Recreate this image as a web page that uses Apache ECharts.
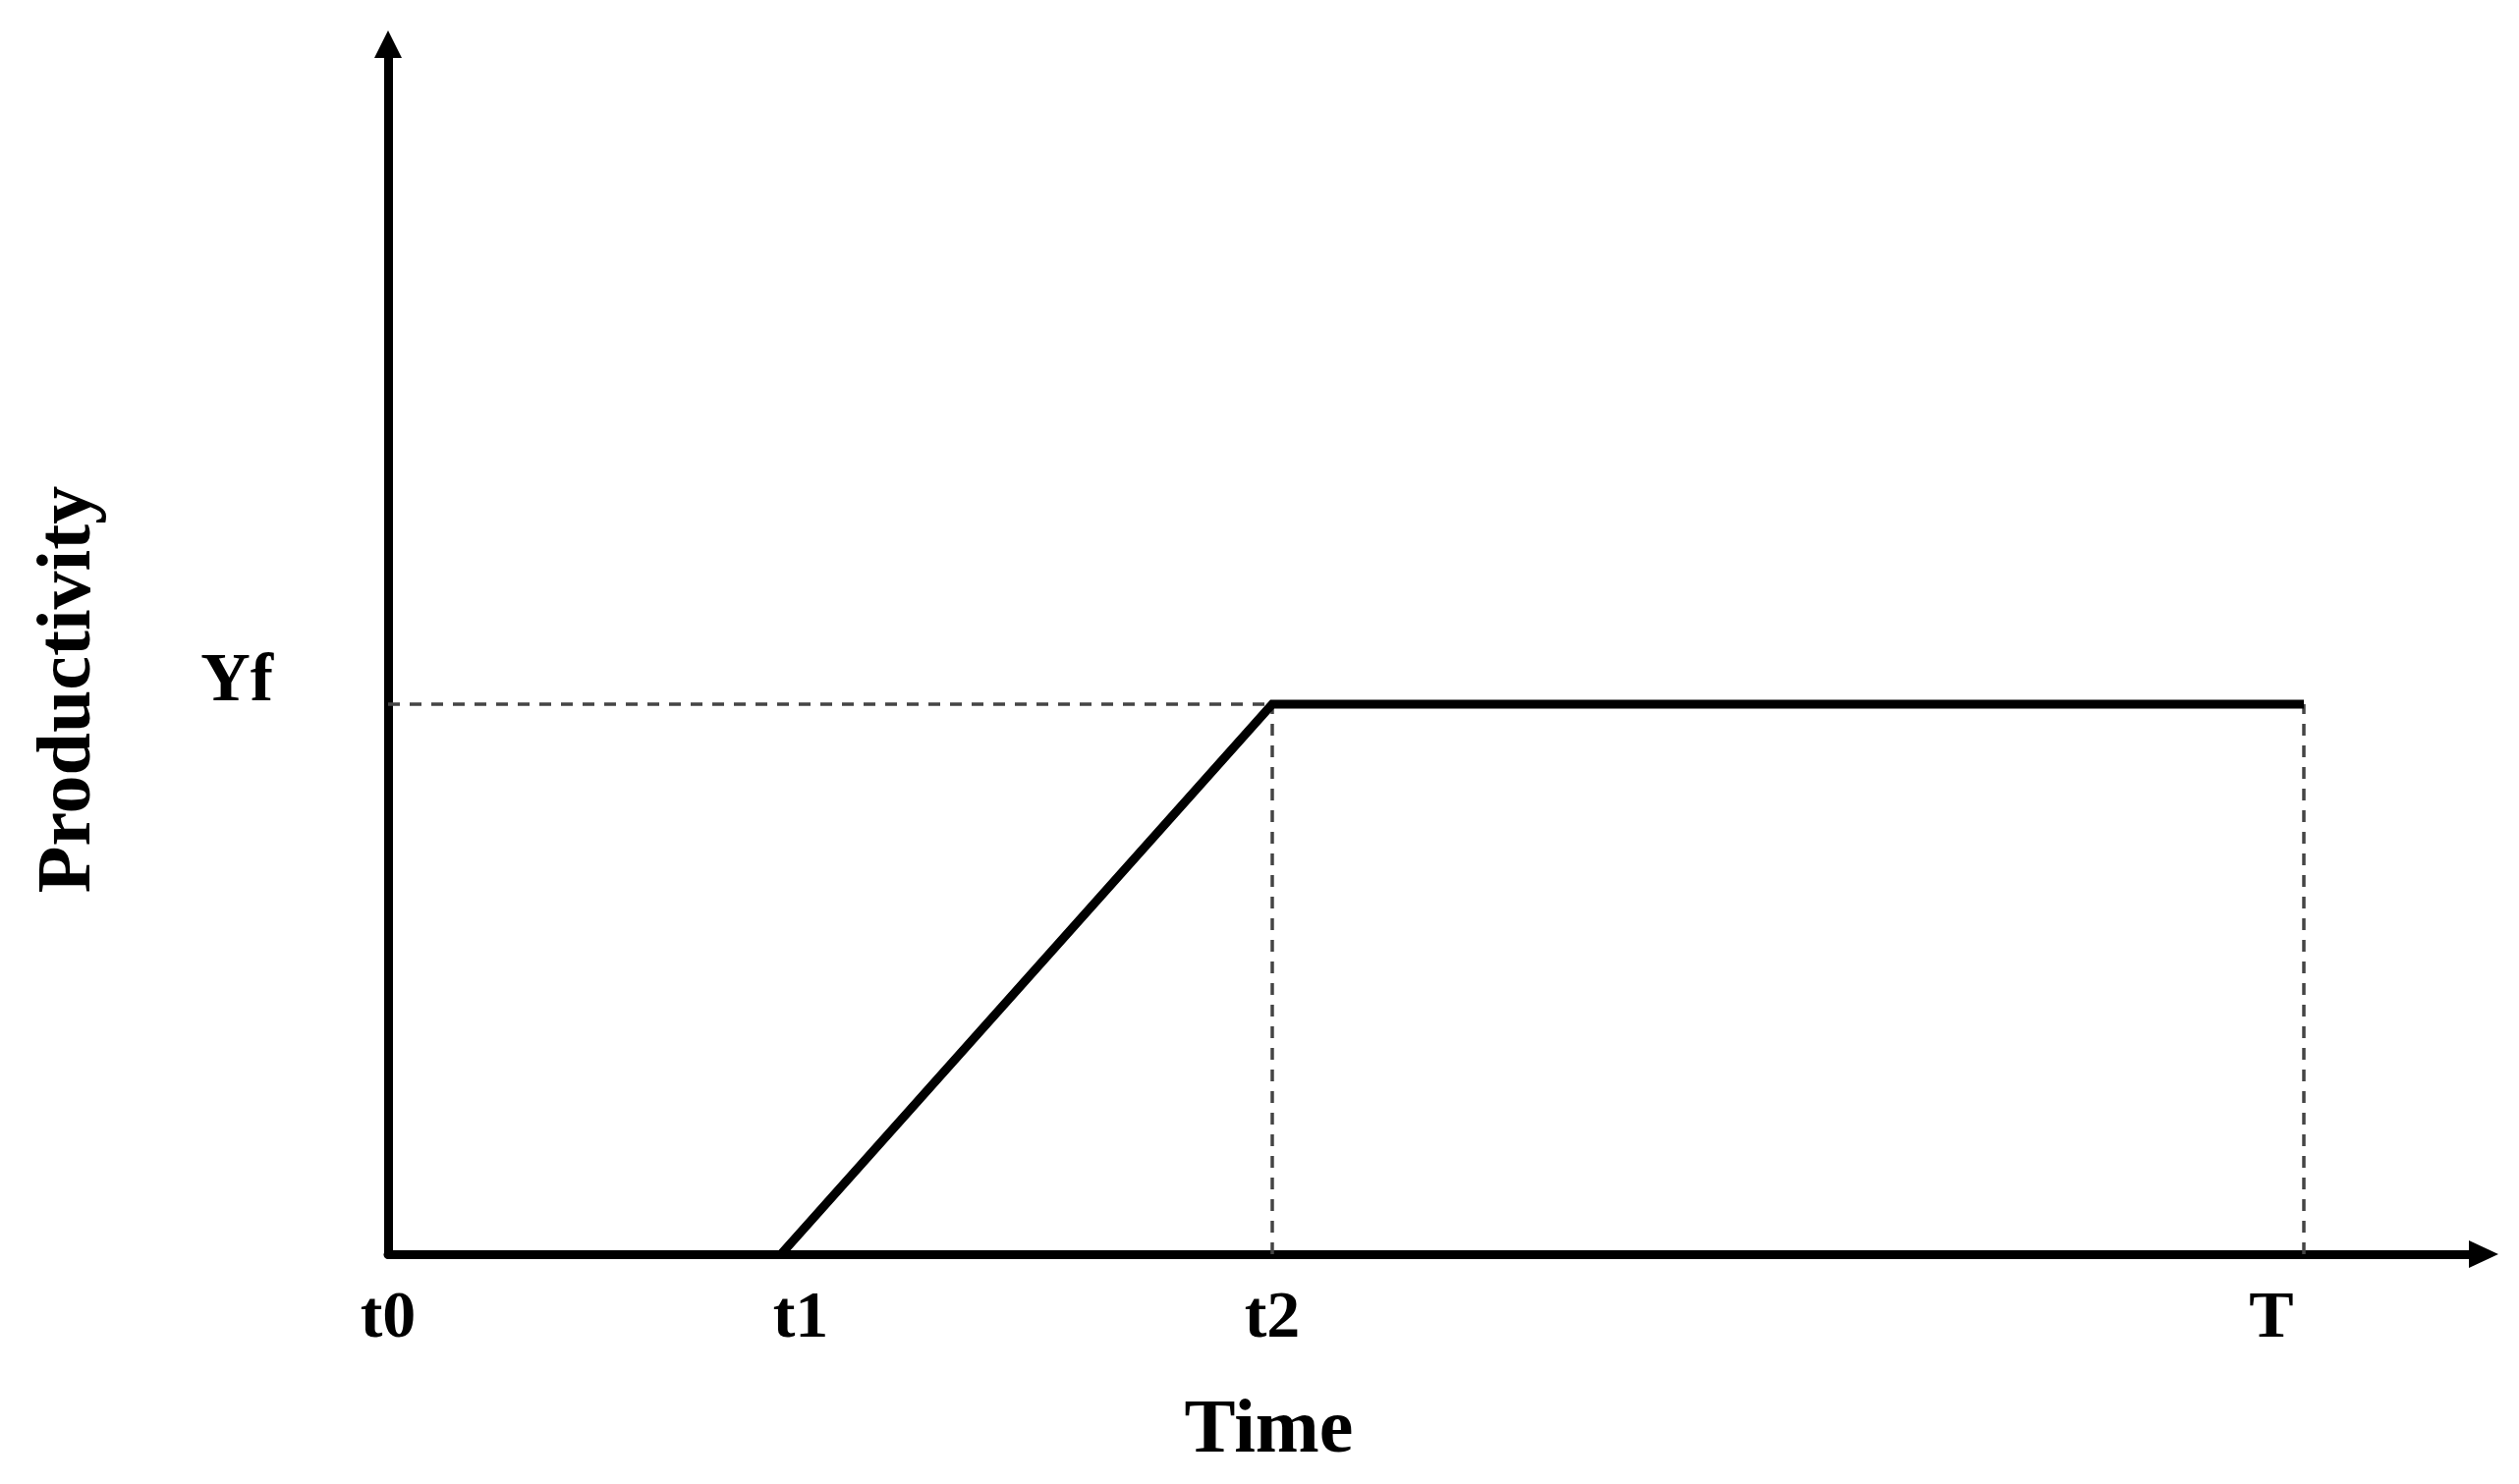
<!DOCTYPE html>
<html>
<head>
<meta charset="utf-8">
<script src="https://cdn.jsdelivr.net/npm/echarts@6/dist/echarts.min.js"></script>
<style>
html,body{margin:0;padding:0;background:#fff;}
#chart{width:2564px;height:1511px;}
</style>
</head>
<body>
<div id="chart"></div>
<script>
// Time points (arbitrary units) and productivity level
var timeTickValues = [0, 4, 9, 19.5];
var timeTickLabels = ['t0', 't1', 't2', 'T'];
var prodTickValues = [1];
var prodTickLabels = ['Yf'];
// productivity curve: zero until t1, linear ramp to Yf at t2, flat until T
var curveTime = [4, 9, 19.5];
var curveProd = [0, 1, 1];

var FONT = '"Liberation Serif", "Times New Roman", serif';
var chart = echarts.init(document.getElementById('chart'));

var t2 = curveTime[1], T = curveTime[2], Yf = curveProd[1];
var dashStyle = {color: '#444', width: 3.5, type: [12, 10]};
function dashed(pts) {
  return {type: 'line', data: pts, symbol: 'none', lineStyle: dashStyle, z: 1, silent: true};
}

var labelRich = {
  t0: {fontFamily: FONT, fontWeight: 'bold', fontSize: 68, color: '#000'},
  t1: {fontFamily: FONT, fontWeight: 'bold', fontSize: 68, color: '#000', padding: [0, 0, 0, 40]},
  t2: {fontFamily: FONT, fontWeight: 'bold', fontSize: 68, color: '#000'},
  T:  {fontFamily: FONT, fontWeight: 'bold', fontSize: 68, color: '#000', padding: [0, 66, 0, 0]}
};

chart.setOption({
  animation: false,
  backgroundColor: '#fff',
  grid: {left: 395, right: 36, top: 45, bottom: 234},
  xAxis: {
    type: 'value', min: 0, max: 21.33,
    name: 'Time', nameLocation: 'middle', nameGap: 142,
    nameTextStyle: {fontFamily: FONT, fontWeight: 'bold', fontSize: 78, color: '#000', padding: [0, 340, 0, 0]},
    axisLine: {show: true, onZero: false, lineStyle: {color: '#000', width: 9}, symbol: ['none', 'triangle'], symbolSize: [28, 30]},
    axisTick: {show: false},
    splitLine: {show: false},
    axisLabel: {
      customValues: timeTickValues,
      margin: 32,
      formatter: function (v) {
        var i = timeTickValues.indexOf(v);
        if (i < 0) return '';
        return '{' + timeTickLabels[i] + '|' + timeTickLabels[i] + '}';
      },
      rich: labelRich
    }
  },
  yAxis: {
    type: 'value', min: 0, max: 2.2,
    name: 'Productivity', nameLocation: 'middle', nameGap: 285, nameRotate: 90,
    nameTextStyle: {fontFamily: FONT, fontWeight: 'bold', fontSize: 78, color: '#000', padding: [0, 82, 0, 0]},
    axisLine: {show: true, onZero: false, lineStyle: {color: '#000', width: 9}, symbol: ['none', 'triangle'], symbolSize: [28, 28]},
    axisTick: {show: false},
    splitLine: {show: false},
    axisLabel: {
      customValues: prodTickValues,
      margin: 117,
      formatter: function (v) {
        var i = prodTickValues.indexOf(v);
        return i < 0 ? '' : '{y|' + prodTickLabels[i] + '}';
      },
      rich: {
        y: {fontFamily: FONT, fontWeight: 'bold', fontSize: 70, color: '#000', padding: [0, 0, 44, 0]}
      }
    }
  },
  series: [
    dashed([[0, Yf], [t2, Yf]]),
    dashed([[t2, 0], [t2, Yf]]),
    dashed([[T, 0], [T, Yf]]),
    {
      type: 'line', symbol: 'none', z: 3, silent: true,
      data: curveTime.map(function (t, i) { return [t, curveProd[i]]; }),
      lineStyle: {color: '#000', width: 9, cap: 'butt', join: 'miter'}
    }
  ]
});
</script>
</body>
</html>
